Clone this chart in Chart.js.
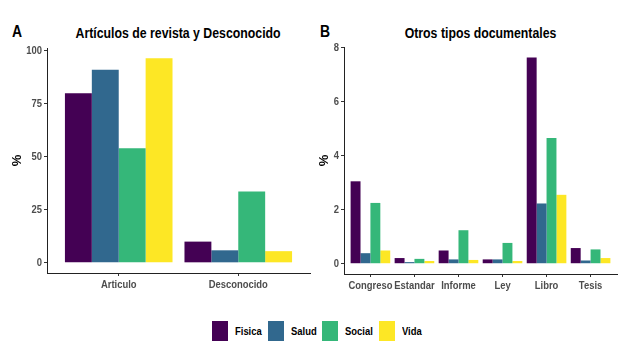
<!DOCTYPE html>
<html>
<head>
<meta charset="utf-8">
<script src="https://cdn.jsdelivr.net/npm/chart.js@4"></script>
<style>
  body { margin: 0; background: #fff; width: 638px; height: 358px; overflow: hidden; position: relative;
         font-family: 'Liberation Sans', Arial, sans-serif; }
  .panel { position: absolute; top: 0; }
  .estrecho { display: inline-block; transform: scaleX(0.82); }
  .tag { position: absolute; font-weight: bold; font-size: 17px; color: #000; transform-origin: left center; }
  .titulo { position: absolute; top: 24px; font-weight: bold; font-size: 15px; color: #000; text-align: center; white-space: nowrap; }
  .titulo .estrecho { transform-origin: center center; }
  #leyenda { position: absolute; left: 212px; top: 321px; display: flex; align-items: center; }
  #leyenda .cuadro { width: 16px; height: 20px; margin-right: 7px; }
  #leyenda span { font-size: 11.5px; font-weight: bold; color: #000; white-space: nowrap; transform-origin: left center; }
</style>
</head>
<body>
<div class="tag estrecho" style="left:12px; top:22px;">A</div>
<div class="tag estrecho" style="left:320px; top:22px;">B</div>
<div class="titulo" style="left:47px; width:263px;"><span class="estrecho">Artículos de revista y Desconocido</span></div>
<div class="titulo" style="left:344px; width:273px;"><span class="estrecho">Otros tipos documentales</span></div>
<canvas id="grafico-a" class="panel" style="left:0px;" width="320" height="300"></canvas>
<canvas id="grafico-b" class="panel" style="left:312px;" width="326" height="300"></canvas>
<div id="leyenda"></div>
<script>
// Datos (%)
const areas = ['Fisica', 'Salud', 'Social', 'Vida'];
const colores = ['#440154', '#31688E', '#35B779', '#FDE725'];

const categoriasA = ['Articulo', 'Desconocido'];
const fisicaA = [80, 10];
const saludA = [91, 5.9];
const socialA = [54, 33.6];
const vidaA = [96.5, 5.5];
const ticksA = [0, 25, 50, 75, 100];

const categoriasB = ['Congreso', 'Estandar', 'Informe', 'Ley', 'Libro', 'Tesis'];
const fisicaB = [3.05, 0.21, 0.49, 0.16, 7.63, 0.58];
const saludB = [0.39, 0.06, 0.16, 0.16, 2.23, 0.12];
const socialB = [2.25, 0.18, 1.24, 0.77, 4.65, 0.53];
const vidaB = [0.49, 0.1, 0.14, 0.1, 2.55, 0.21];
const ticksB = [0, 2, 4, 6, 8];

const fuente = "'Liberation Sans', Arial, sans-serif";
const ESTRECHO = 0.82;

function aPuntos(valores) {
    return valores.map((v, i) => ({ x: i + 1, y: v }));
}

// Dibuja las etiquetas de los ejes con letra estrecha (no hay fuente "Narrow" instalada)
const etiquetasEstrechas = {
    id: 'etiquetasEstrechas',
    afterDraw(chart) {
        const ctx = chart.ctx;
        ctx.save();
        ctx.fillStyle = '#4d4d4d';
        ctx.font = 'bold 11.5px ' + fuente;
        const sx = chart.scales.x;
        ctx.textAlign = 'center';
        ctx.textBaseline = 'top';
        sx.ticks.forEach(t => {
            ctx.save();
            ctx.translate(sx.getPixelForValue(t.value), sx.top + 3 + 3);
            ctx.scale(ESTRECHO, 1);
            ctx.fillText(t.label, 0, 0);
            ctx.restore();
        });
        const sy = chart.scales.y;
        ctx.textAlign = 'right';
        ctx.textBaseline = 'middle';
        sy.ticks.forEach(t => {
            ctx.save();
            ctx.translate(sy.right - 3 - 2, sy.getPixelForValue(t.value));
            ctx.scale(ESTRECHO, 1);
            ctx.fillText(String(t.value), 0, 0);
            ctx.restore();
        });
        ctx.restore();
    }
};

function crearGrafico(id, categorias, series, ticksY, yMin, yMax, cfg) {
    const ctx = document.getElementById(id).getContext('2d');
    return new Chart(ctx, {
        type: 'bar',
        data: {
            datasets: series.map((s, i) => ({
                label: areas[i],
                data: aPuntos(s),
                backgroundColor: colores[i],
                borderWidth: 0,
                categoryPercentage: 0.9,
                barPercentage: 1
            }))
        },
        options: {
            responsive: false,
            animation: false,
            layout: { padding: { top: cfg.top, right: cfg.right, left: 0, bottom: 0 } },
            plugins: { legend: { display: false }, tooltip: { enabled: false } },
            scales: {
                x: {
                    type: 'linear',
                    offset: false,
                    min: 0.4,
                    max: categorias.length + 0.6,
                    afterBuildTicks: (scale) => { scale.ticks = categorias.map((c, i) => ({ value: i + 1 })); },
                    afterFit: (scale) => { scale.height = cfg.alturaX; },
                    border: { display: true, color: '#222', width: 1 },
                    grid: { display: true, drawOnChartArea: false, offset: false, tickLength: 3, color: '#333' },
                    ticks: {
                        autoSkip: false, maxRotation: 0, padding: 3, color: 'rgba(0,0,0,0)',
                        font: { family: fuente, size: 10, weight: 'bold' },
                        callback: (v) => categorias[v - 1]
                    }
                },
                y: {
                    min: yMin,
                    max: yMax,
                    afterBuildTicks: (scale) => { scale.ticks = ticksY.map(v => ({ value: v })); },
                    afterFit: (scale) => { scale.width = cfg.anchoY; },
                    border: { display: true, color: '#222', width: 1 },
                    grid: { display: true, drawOnChartArea: false, tickLength: 3, color: '#333' },
                    ticks: {
                        padding: 2, color: 'rgba(0,0,0,0)',
                        font: { family: fuente, size: 10, weight: 'bold' }
                    },
                    title: {
                        display: true, text: '%', color: '#000',
                        padding: { top: cfg.padTitulo, bottom: 0 },
                        font: { family: fuente, size: 13, weight: 'bold' }
                    }
                }
            }
        },
        plugins: [etiquetasEstrechas]
    });
}

crearGrafico('grafico-a', categoriasA, [fisicaA, saludA, socialA, vidaA], ticksA, -4.8, 101.3,
    { top: 48, right: 10, anchoY: 47, alturaX: 27, padTitulo: 10 });

crearGrafico('grafico-b', categoriasB, [fisicaB, saludB, socialB, vidaB], ticksB, -0.38, 8.02,
    { top: 47, right: 21, anchoY: 32, alturaX: 26, padTitulo: 5 });

// Leyenda común
const leyenda = document.getElementById('leyenda');
areas.forEach((a, i) => {
    const c = document.createElement('div');
    c.className = 'cuadro';
    c.style.background = colores[i];
    const t = document.createElement('span');
    t.className = 'estrecho';
    t.textContent = a;
    leyenda.appendChild(c);
    leyenda.appendChild(t);
    // el texto se encoge con scaleX: ajustar el ancho que ocupa
    const w = t.getBoundingClientRect().width;
    t.style.marginRight = (w - w / ESTRECHO + 6) + 'px';
});
</script>
</body>
</html>
